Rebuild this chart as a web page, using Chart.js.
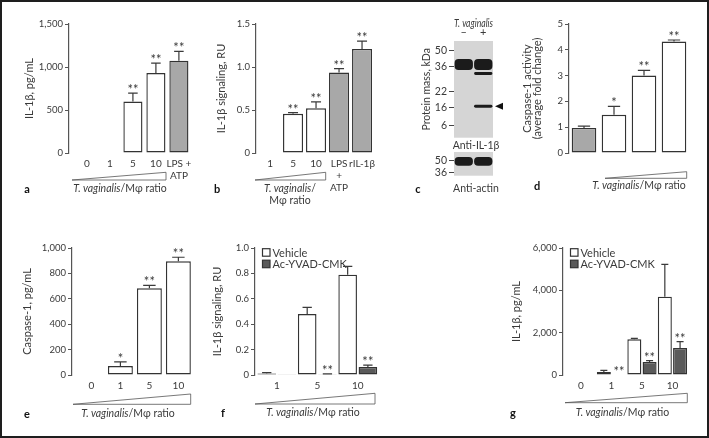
<!DOCTYPE html>
<html>
<head>
<meta charset="utf-8">
<script src="https://cdn.jsdelivr.net/npm/chart.js"></script>
<style>
  body { margin: 0; background: #fff; }
  #fig { position: relative; width: 709px; height: 438px; overflow: hidden; font-family: Lato, "Open Sans", sans-serif; color: #3a3a3a; }
  #frame { position: absolute; left: 0; top: 0; width: 709px; height: 438px; box-sizing: border-box; border: 2px solid #1e1e1e; pointer-events: none; }
  canvas { position: absolute; }
  svg { position: absolute; left: 0; top: 0; }
  .t { position: absolute; font-size: 10.5px; line-height: 1; white-space: nowrap; transform: translate(-50%, -50%); }
  .l { position: absolute; font-size: 11px; font-weight: bold; color: #111; transform: translate(-50%, -50%); line-height: 1; }
</style>
</head>
<body>
<div id="fig">
  <canvas id="cA"></canvas>
  <canvas id="cB"></canvas>
  <canvas id="cBlot"></canvas>
  <canvas id="cActin"></canvas>
  <canvas id="cD"></canvas>
  <canvas id="cE"></canvas>
  <canvas id="cF"></canvas>
  <canvas id="cG"></canvas>

  <svg width="709" height="438" fill="#fff" stroke="#555" stroke-width="0.8">
    <polygon points="72,180 166,172.3 166,180"/>
    <polygon points="255,180 325.7,172.3 325.7,180"/>
    <polygon points="605,178.3 686.7,171.7 686.7,178.3"/>
    <polygon points="73,404.3 190.7,394 190.7,404.3"/>
    <polygon points="255,404 375,393.3 375,404"/>
    <polygon points="565,402.7 687.3,393.3 687.3,402.7"/>
  </svg>

  <div class="t" style="left:120px;top:188px"><i>T. vaginalis</i>/Mφ ratio</div>
  <div class="t" style="left:290px;top:188px"><i>T. vaginalis</i>/</div>
  <div class="t" style="left:290px;top:200px">Mφ ratio</div>
  <div class="t" style="left:476px;top:145px">Anti-IL-1β</div>
  <div class="t" style="left:476px;top:188px">Anti-actin</div>
  <div class="t" style="left:639px;top:185px"><i>T. vaginalis</i>/Mφ ratio</div>
  <div class="t" style="left:128px;top:412.7px"><i>T. vaginalis</i>/Mφ ratio</div>
  <div class="t" style="left:313px;top:412.3px"><i>T. vaginalis</i>/Mφ ratio</div>
  <div class="t" style="left:622.5px;top:411.7px"><i>T. vaginalis</i>/Mφ ratio</div>

  <div class="l" style="left:27px;top:188px">a</div>
  <div class="l" style="left:217px;top:188px">b</div>
  <div class="l" style="left:418px;top:188px">c</div>
  <div class="l" style="left:537px;top:185px">d</div>
  <div class="l" style="left:27px;top:412.7px">e</div>
  <div class="l" style="left:223px;top:412px">f</div>
  <div class="l" style="left:513px;top:412px">g</div>

  <div id="frame"></div>
</div>

<script>
  // a: IL-1β release
  const aCats = ['0', '1', '5', '10', ['LPS +', 'ATP']];
  const aIL1b = [null, null, 598, 929, 1073];
  const aErr = [null, null, 98, 116, 108];
  const aStars = ['', '', '**', '**', '**'];

  // b: IL-1β signaling
  const bCats = ['1', '5', '10', ['LPS', '+', 'ATP'], 'rIL-1β'];
  const bSignal = [null, 0.455, 0.52, 0.935, 1.21];
  const bErr = [null, 0.015, 0.075, 0.045, 0.09];
  const bStars = ['', '**', '**', '**', '**'];

  // c: western blot (marker / band migration, arbitrary units from top of blot)
  const blotLanes = ['–', '+'];
  const blotMarkers = ['50', '36', '22', '16', '6'];
  const blotMarkerPos = [10, 26, 51, 67, 85];
  const band36 = [[18, 29], [18, 29]];
  const band31 = [null, [31, 34]];
  const band17 = [null, [64, 67]];
  const actinMarkers = ['50', '36'];
  const actinMarkerPos = [9, 21];
  const actinBand = [[5, 14], [5, 14]];

  // d: caspase-1 activity
  const dCats = ['0', '0.2', '1', '5'];
  const dFold = [0.97, 1.48, 3.0, 4.32];
  const dErr = [0.07, 0.33, 0.2, 0.06];
  const dStars = ['', '*', '**', '**'];

  // e: caspase-1 release
  const eCats = ['0', '1', '5', '10'];
  const eCasp = [null, 70, 683, 895];
  const eErr = [null, 33, 23, 32];
  const eStars = ['', '*', '**', '**'];

  // f: IL-1β signaling with inhibitor
  const fCats = ['1', '5', '10'];
  const fVehicle = [0.012, 0.48, 0.79];
  const fVehErr = [0.007, 0.053, 0.065];
  const fYvad = [0.005, 0.006, 0.063];
  const fYvadErr = [0, 0.003, 0.014];
  const fYvadStars = ['', '**', '**'];

  // g: IL-1β release with inhibitor
  const gCats = ['0', '1', '5', '10'];
  const gVehicle = [null, 145, 1685, 3700];
  const gVehErr = [null, 75, 47, 1530];
  const gYvad = [null, 20, 615, 1275];
  const gYvadErr = [null, 0, 62, 300];
  const gYvadStars = ['', '**', '**', '**'];

  Chart.defaults.font.family = 'Lato, "Open Sans", sans-serif';
  Chart.defaults.font.size = 10.5;
  Chart.defaults.color = '#3a3a3a';
  Chart.defaults.animation = false;
  Chart.defaults.responsive = false;
  Chart.defaults.devicePixelRatio = 1;
  Chart.defaults.plugins.legend.display = false;
  Chart.defaults.plugins.tooltip.enabled = false;

  const INK = '#3a3a3a', AXIS = '#555';
  const WHITE = '#ffffff', LIGHT = '#a8a8a8', DARK = '#5a5a5a';

  // error bars and significance stars drawn from dataset.errors / dataset.stars
  const errorBars = {
    id: 'errorBars',
    afterDatasetsDraw(chart) {
      const ctx = chart.ctx, y = chart.scales.y;
      chart.data.datasets.forEach((ds, di) => {
        const meta = chart.getDatasetMeta(di);
        meta.data.forEach((bar, i) => {
          const v = ds.data[i].y;
          if (v == null) return;
          const err = (ds.errors && ds.errors[i]) || 0;
          const yTop = y.getPixelForValue(v + err);
          const half = bar.width * 0.25;
          ctx.save();
          ctx.strokeStyle = INK;
          ctx.lineWidth = 1.2;
          if (err) {
            ctx.beginPath();
            ctx.moveTo(bar.x, bar.y);
            ctx.lineTo(bar.x, yTop);
            ctx.moveTo(bar.x - half, yTop);
            ctx.lineTo(bar.x + half, yTop);
            ctx.stroke();
          }
          const s = ds.stars && ds.stars[i];
          if (s) {
            ctx.fillStyle = INK;
            ctx.font = '13px Lato, sans-serif';
            ctx.textAlign = 'center';
            ctx.textBaseline = 'alphabetic';
            ctx.fillText(s, bar.x, yTop + 1);
          }
          ctx.restore();
        });
      });
    }
  };

  // legend inside the plot, top-left, built from the datasets
  const boxLegend = {
    id: 'boxLegend',
    afterDraw(chart) {
      const { ctx, chartArea: a } = chart;
      ctx.save();
      ctx.font = '11px Lato, sans-serif';
      ctx.textBaseline = 'middle';
      ctx.textAlign = 'left';
      chart.data.datasets.forEach((ds, i) => {
        const cy = a.top + 4.5 + i * 11.5;
        const bx = a.left + 7.5;
        ctx.fillStyle = ds.backgroundColor;
        ctx.fillRect(bx, cy - 3.8, 7.5, 7.5);
        ctx.strokeStyle = ds.borderColor;
        ctx.lineWidth = 1.2;
        ctx.strokeRect(bx, cy - 3.8, 7.5, 7.5);
        ctx.fillStyle = INK;
        ctx.fillText(ds.label, bx + 10, cy + 0.5);
      });
      ctx.restore();
    }
  };

  const blotBackground = {
    id: 'blotBackground',
    beforeDatasetsDraw(chart) {
      const { ctx, chartArea: a } = chart;
      ctx.save();
      ctx.fillStyle = '#d5d5d5';
      ctx.fillRect(a.left, a.top, a.right - a.left, a.bottom - a.top);
      ctx.restore();
    }
  };

  const arrowPlugin = {
    id: 'arrow',
    afterDraw(chart) {
      const { ctx, chartArea: a } = chart;
      const yp = chart.scales.y.getPixelForValue((band17[1][0] + band17[1][1]) / 2);
      ctx.save();
      ctx.fillStyle = '#111';
      ctx.beginPath();
      ctx.moveTo(a.right + 2, yp);
      ctx.lineTo(a.right + 10, yp - 3.5);
      ctx.lineTo(a.right + 10, yp + 3.5);
      ctx.closePath();
      ctx.fill();
      ctx.restore();
    }
  };

  const toXY = arr => arr.map((v, i) => ({ x: i, y: v }));
  const commas = v => v.toLocaleString('en-US');
  const oneDec = v => (v === 0 ? '0' : v.toFixed(1));

  function place(canvas, left, top, width, height) {
    canvas.width = width;
    canvas.height = height;
    canvas.style.left = left + 'px';
    canvas.style.top = top + 'px';
  }

  function bars(label, values, fill, errors, stars, pct) {
    return {
      label, data: toXY(values), errors, stars,
      backgroundColor: fill, borderColor: '#333', borderWidth: 1.4, borderSkipped: false,
      categoryPercentage: 1, barPercentage: pct
    };
  }

  function barPanel(id, g, datasets, y, extra) {
    const padT = 10, padR = 12, xH = 44;
    const left = g.scaleLeft, top = g.t - padT;
    const canvas = document.getElementById(id);
    place(canvas, left, top, g.r + padR - left, g.b + xH - top);
    return new Chart(canvas, {
      type: 'bar',
      data: { datasets },
      options: {
        layout: { padding: { top: padT, right: padR, left: 0, bottom: 0 } },
        scales: {
          x: {
            type: 'linear', offset: false, min: g.xMin, max: g.xMax,
            grid: { display: false, drawTicks: false }, border: { display: false },
            afterFit: s => { s.height = xH; },
            ticks: {
              stepSize: 1, includeBounds: false, autoSkip: false, maxRotation: 0, padding: 5,
              font: { size: 10, lineHeight: 1.2 },
              callback: v => g.cats[v] ?? ''
            }
          },
          y: {
            min: 0, max: y.max,
            afterFit: s => { s.width = g.l - left; },
            grid: { drawOnChartArea: false, tickLength: 4, color: AXIS },
            border: { color: AXIS, width: 1.2 },
            ticks: { stepSize: y.step, padding: 2, font: { size: 9.5 }, callback: y.fmt },
            title: { display: true, text: y.title, padding: 0, font: { size: 11, lineHeight: y.lh || 1.2 } }
          }
        }
      },
      plugins: extra ? [errorBars, extra] : [errorBars]
    });
  }

  // a
  barPanel('cA', { l: 69, t: 24, r: 192, b: 153, scaleLeft: 23, xMin: -0.78, xMax: 4.57, cats: aCats },
    [bars('IL-1β', aIL1b, aCats.map((c, i) => (i === 4 ? LIGHT : WHITE)), aErr, aStars, 0.83)],
    { max: 1500, step: 500, fmt: commas, title: 'IL-1β, pg/mL' });

  // b
  barPanel('cB', { l: 256, t: 24, r: 374, b: 153, scaleLeft: 215, xMin: -0.61, xMax: 4.52, cats: bCats },
    [bars('IL-1β signaling', bSignal, bCats.map((c, i) => (i >= 3 ? LIGHT : WHITE)), bErr, bStars, 0.87)],
    { max: 1.5, step: 0.5, fmt: oneDec, title: 'IL-1β signaling, RU' });

  // c: blot
  const blotBar = d => ({
    data: d, grouped: false, backgroundColor: '#1b1b1b', borderRadius: 4, borderSkipped: false,
    barPercentage: 0.94, categoryPercentage: 1
  });
  const cBlot = document.getElementById('cBlot');
  place(cBlot, 420, 17, 87, 129);
  new Chart(cBlot, {
    type: 'bar',
    data: { labels: blotLanes, datasets: [blotBar(band36), blotBar(band31), blotBar(band17)] },
    options: {
      layout: { padding: { top: 0, right: 14, bottom: 8, left: 0 } },
      scales: {
        x: {
          position: 'top', grid: { display: false, drawTicks: false }, border: { display: false },
          afterFit: s => { s.height = 24; },
          ticks: { padding: 2, font: { size: 11 } },
          title: { display: true, text: 'T. vaginalis', padding: 0, font: { size: 10.5, style: 'italic' } }
        },
        y: {
          reverse: true, min: 0, max: 97,
          afterFit: s => { s.width = 34; },
          afterBuildTicks: s => { s.ticks = blotMarkerPos.map(v => ({ value: v })); },
          grid: { drawOnChartArea: false, tickLength: 5, color: '#444' }, border: { display: false },
          ticks: { padding: 2, callback: v => blotMarkers[blotMarkerPos.indexOf(v)] },
          title: { display: true, text: 'Protein mass, kDa', padding: 0, font: { size: 10.5 } }
        }
      }
    },
    plugins: [blotBackground, arrowPlugin]
  });

  const cActin = document.getElementById('cActin');
  place(cActin, 424, 142, 75, 42);
  new Chart(cActin, {
    type: 'bar',
    data: { labels: blotLanes, datasets: [blotBar(actinBand)] },
    options: {
      layout: { padding: { top: 10, right: 6, bottom: 8, left: 0 } },
      scales: {
        x: { display: false },
        y: {
          reverse: true, min: 0, max: 24,
          afterFit: s => { s.width = 30; },
          afterBuildTicks: s => { s.ticks = actinMarkerPos.map(v => ({ value: v })); },
          grid: { drawOnChartArea: false, tickLength: 5, color: '#444' }, border: { display: false },
          ticks: { padding: 2, callback: v => actinMarkers[actinMarkerPos.indexOf(v)] }
        }
      }
    },
    plugins: [blotBackground]
  });

  // d
  barPanel('cD', { l: 569, t: 24, r: 689, b: 153, scaleLeft: 522, xMin: -0.5, xMax: 3.5, cats: dCats },
    [bars('Caspase-1 activity', dFold, dCats.map((c, i) => (i === 0 ? LIGHT : WHITE)), dErr, dStars, 0.82)],
    { max: 5, step: 1, fmt: v => String(v), title: ['Caspase-1 activity', '(average fold change)'], lh: 0.95 });

  // e
  barPanel('cE', { l: 72, t: 248, r: 192, b: 375, scaleLeft: 21, xMin: -0.67, xMax: 3.47, cats: eCats },
    [bars('Caspase-1', eCasp, WHITE, eErr, eStars, 0.86)],
    { max: 1000, step: 200, fmt: commas, title: 'Caspase-1, pg/mL' });

  // f
  barPanel('cF', { l: 255, t: 248, r: 378, b: 375, scaleLeft: 211, xMin: -0.54, xMax: 2.5, cats: fCats },
    [bars('Vehicle', fVehicle, WHITE, fVehErr, null, 0.92),
     bars('Ac-YVAD-CMK', fYvad, DARK, fYvadErr, fYvadStars, 0.92)],
    { max: 1.0, step: 0.2, fmt: oneDec, title: 'IL-1β signaling, RU' }, boxLegend);

  // g
  barPanel('cG', { l: 563, t: 248, r: 688, b: 375, scaleLeft: 510, xMin: -0.59, xMax: 3.51, cats: gCats },
    [bars('Vehicle', gVehicle, WHITE, gVehErr, null, 0.92),
     bars('Ac-YVAD-CMK', gYvad, DARK, gYvadErr, gYvadStars, 0.92)],
    { max: 6000, step: 2000, fmt: commas, title: 'IL-1β, pg/mL' }, boxLegend);
</script>
</body>
</html>
